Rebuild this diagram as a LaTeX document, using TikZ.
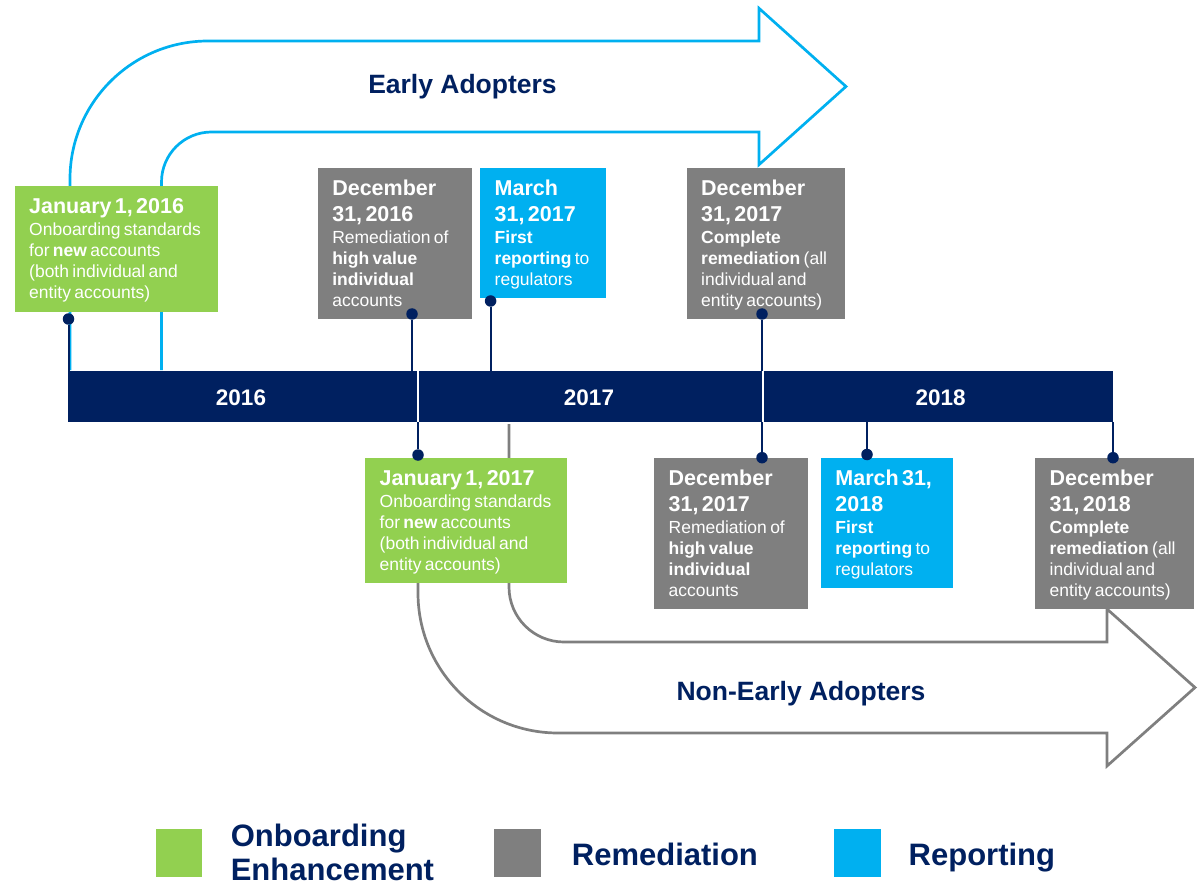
\documentclass[tikz,border=0pt]{standalone}
\usepackage{fontspec}
\setmainfont{Liberation Sans}
\usetikzlibrary{calc}
\definecolor{navy}{RGB}{0,32,96}
\definecolor{obgreen}{RGB}{146,208,80}
\definecolor{remgray}{RGB}{127,127,127}
\definecolor{repblue}{RGB}{0,176,240}
\newcommand\hdf{\fontsize{21.5}{26}\selectfont\bfseries}
\newcommand\bdf{\fontsize{17.5}{20.9}\selectfont}
\newcommand\hbgap{\vspace{1.5pt}}
\begin{document}
\begin{tikzpicture}[x=1pt,y=-1pt,
  box/.style={anchor=north west, inner sep=0pt, outer sep=0pt},
  txt/.style={anchor=base west, inner sep=0pt, text width=200pt, align=left, text=white},
  dot/.style={circle, fill=navy, inner sep=0pt, minimum size=11.5pt},
  conn/.style={draw=navy, line width=2pt},
  year/.style={anchor=base, text=white, font=\fontsize{22.5}{27}\selectfont\bfseries},
  phase/.style={anchor=base, text=navy, font=\fontsize{26.5}{30}\selectfont\bfseries},
  legtxt/.style={anchor=base west, inner sep=0pt, text width=260pt, align=left, text=navy, font=\fontsize{31}{34}\selectfont\bfseries},
  legsq/.style={anchor=north west, inner sep=0pt, minimum width=46.5pt, minimum height=48.5pt}]
\useasboundingbox (0,0) rectangle (1202,885);

% Early adopters arrow
\draw[draw=repblue, line width=2.7pt]
  (70,370) -- (70,179) .. controls (70,102.8) and (131.8,41) .. (208,41)
  -- (759,41) -- (759,8.3) -- (846,86.5) -- (759,164.7) -- (759,132)
  -- (211.5,132) .. controls (183.9,132) and (161.5,154.4) .. (161.5,182) -- (161.5,370);
\node[phase] (early) at (462.5,93.3) {Early Adopters};

% Non-early adopters arrow
\draw[draw=remgray, line width=2.7pt]
  (509,424) -- (509,587) .. controls (509,617.4) and (533.6,642) .. (564,642)
  -- (1107,642) -- (1107,609) -- (1195,687.5) -- (1107,766) -- (1107,733)
  -- (558,733) .. controls (480.7,733) and (418,670.3) .. (418,593) -- (418,560);
\node[phase] (late) at (801,700) {Non-Early Adopters};

% timeline bar
\node[anchor=north west, fill=navy, inner sep=0pt, minimum width=1045pt, minimum height=51pt] (bar) at (68,370.5) {};
\coordinate (dv1) at (417.5,370.5);
\coordinate (dv2) at (763,370.5);
\draw[white, line width=2pt] (dv1) -- (dv1 |- bar.south);
\draw[white, line width=2pt] (dv2) -- (dv2 |- bar.south);
\node[year] (y16) at (241,405) {2016};
\node[year] (y17) at (589,405) {2017};
\node[year] (y18) at (940.6,405) {2018};

% top boxes
\node[box, fill=obgreen, minimum width=203.5pt, minimum height=126pt] (b1) at (14.5,186) {};
\node[txt] (t1) at ($(b1.north west)+(14.5,27.3)$) {{\hdf January 1, 2016\par}\hbgap{\bdf Onboarding standards\\for \textbf{new} accounts\\(both individual and\\entity accounts)\par}};

\node[box, fill=remgray, minimum width=154pt, minimum height=151pt] (b2) at (317.6,168) {};
\node[txt] (t2) at ($(b2.north west)+(14.5,27.3)$) {{\hdf December\\31, 2016\par}\hbgap{\bdf Remediation of\\\textbf{high value}\\\textbf{individual}\\accounts\par}};

\node[box, fill=repblue, minimum width=125.7pt, minimum height=130pt] (b3) at (480,168) {};
\node[txt] (t3) at ($(b3.north west)+(14.5,27.3)$) {{\hdf March\\31, 2017\par}\hbgap{\bdf \textbf{First}\\\textbf{reporting} to\\regulators\par}};

\node[box, fill=remgray, minimum width=158.5pt, minimum height=151pt] (b4) at (686.5,168) {};
\node[txt] (t4) at ($(b4.north west)+(14.5,27.3)$) {{\hdf December\\31, 2017\par}\hbgap{\bdf \textbf{Complete}\\\textbf{remediation} (all\\individual and\\entity accounts)\par}};

% bottom boxes
\node[box, fill=obgreen, minimum width=201.7pt, minimum height=125.6pt] (b5) at (365,457.7) {};
\node[txt] (t5) at ($(b5.north west)+(14.5,27.3)$) {{\hdf January 1, 2017\par}\hbgap{\bdf Onboarding standards\\for \textbf{new} accounts\\(both individual and\\entity accounts)\par}};

\node[box, fill=remgray, minimum width=154pt, minimum height=151.6pt] (b6) at (654,457.7) {};
\node[txt] (t6) at ($(b6.north west)+(14.5,27.3)$) {{\hdf December\\31, 2017\par}\hbgap{\bdf Remediation of\\\textbf{high value}\\\textbf{individual}\\accounts\par}};

\node[box, fill=repblue, minimum width=132.6pt, minimum height=130pt] (b7) at (820.7,457.7) {};
\node[txt] (t7) at ($(b7.north west)+(14.5,27.3)$) {{\hdf March 31,\\2018\par}\hbgap{\bdf \textbf{First}\\\textbf{reporting} to\\regulators\par}};

\node[box, fill=remgray, minimum width=159pt, minimum height=151.6pt] (b8) at (1035,457.7) {};
\node[txt] (t8) at ($(b8.north west)+(14.5,27.3)$) {{\hdf December\\31, 2018\par}\hbgap{\bdf \textbf{Complete}\\\textbf{remediation} (all\\individual and\\entity accounts)\par}};

% milestone dots and connectors
\node[dot] (d1) at (68.5,319) {};
\node[dot] (d2) at (412,314) {};
\node[dot] (d3) at (490.6,301) {};
\node[dot] (d4) at (762,314) {};
\node[dot] (d5) at (418,455) {};
\node[dot] (d6) at (762,457.7) {};
\node[dot] (d7) at (867,454.5) {};
\node[dot] (d8) at (1113,457.7) {};
\draw[conn] (d1) -- (d1 |- bar.north);
\draw[conn] (d2) -- (d2 |- bar.north);
\draw[conn] (d3) -- (d3 |- bar.north);
\draw[conn] (d4) -- (d4 |- bar.north);
\draw[conn] (d5) -- (d5 |- bar.south);
\draw[conn] (d6) -- (d6 |- bar.south);
\draw[conn] (d7) -- (d7 |- bar.south);
\draw[conn] (d8) -- (d8 |- bar.south);

% legend
\node[legsq, fill=obgreen] (lg1) at (155.3,828.3) {};
\node[legtxt] (lt1) at (230.6,846) {Onboarding\\Enhancement};
\node[legsq, fill=remgray] (lg2) at (494,828.3) {};
\node[legtxt] (lt2) at (571.7,865.7) {Remediation};
\node[legsq, fill=repblue] (lg3) at (833.8,828.3) {};
\node[legtxt] (lt3) at (908.5,865.7) {Reporting};
\end{tikzpicture}
\end{document}
